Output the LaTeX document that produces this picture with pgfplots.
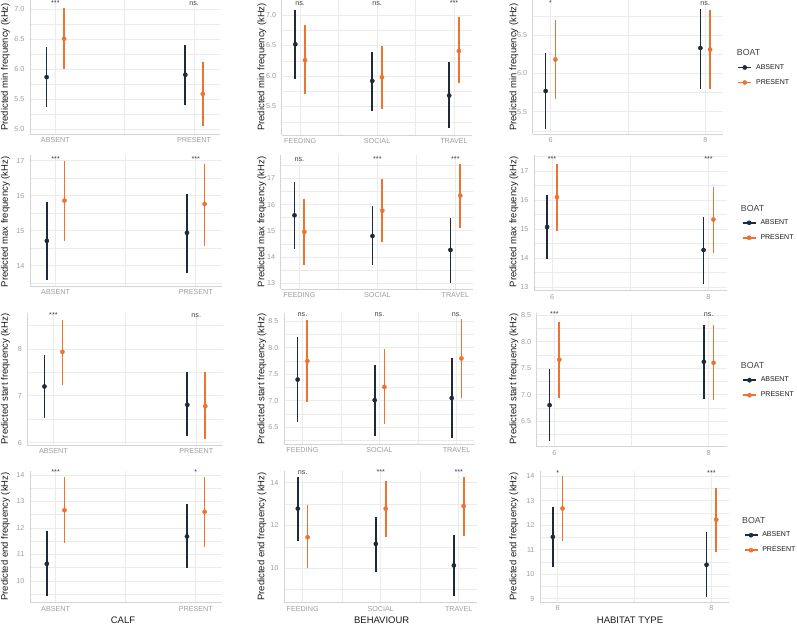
\documentclass[border=0pt]{standalone}
\usepackage{fontspec}
\setmainfont{Liberation Sans}
\usepackage{pgfplots}
\pgfplotsset{compat=1.18}

\definecolor{cdark}{HTML}{1C2A3A}
\definecolor{corange}{HTML}{EC7330}
\definecolor{gridc}{HTML}{EBEBEB}
\definecolor{axisc}{HTML}{D4D4D4}
\definecolor{tickc}{HTML}{9E9E9E}
\definecolor{annc}{HTML}{444444}
\definecolor{labc}{HTML}{1A1A1A}

\newcommand\tickfont{\fontsize{7.2}{8.6}\selectfont}
\newcommand\labfont{\fontsize{9.5}{11}\selectfont}
\newcommand\legfont{\fontsize{7}{8.4}\selectfont}
\newcommand\titfont{\fontsize{8.8}{10}\selectfont}

\tikzset{ann/.style={anchor=base, font=\tickfont, text=annc, inner sep=0pt}}

\pgfplotsset{
  panel/.style={
    scale only axis, anchor=south west, clip=false, enlargelimits=false,
    axis x line*=bottom, axis y line*=left,
    axis line style={draw=axisc, line width=0.7pt, -},
    major tick length=0pt, minor tick length=0pt,
    grid=both,
    major grid style={draw=gridc, line width=0.8pt},
    minor grid style={draw=gridc, line width=0.45pt},
    tick label style={font=\tickfont, text=tickc},
    yticklabel style={xshift=-2pt},
    /pgf/number format/assume math mode=true,
  },
  dec/.style={yticklabel style={/pgf/number format/.cd, fixed, fixed zerofill, precision=1}},
  calf/.style={xmin=0.817, xmax=2.187, xtick={1,2}, minor xtick={1.5}, xticklabels={ABSENT,PRESENT}},
  behav/.style={xmin=0.76, xmax=3.23, xtick={1,2,3}, minor xtick={1.5,2.5}, xticklabels={FEEDING,SOCIAL,TRAVEL}},
  habit/.style={xmin=5.77, xmax=8.233, xtick={6,8}, minor xtick={7}},
  sdark/.style={forget plot, only marks, mark=*, mark size=2.1pt, color=cdark,
    mark options={draw=cdark, fill=cdark},
    error bars/.cd, y dir=both, y explicit, error mark=none,
    error bar style={line width=1.7pt, color=cdark}},
  sorange/.style={forget plot, only marks, mark=*, mark size=2.1pt, color=corange,
    mark options={draw=corange, fill=corange},
    error bars/.cd, y dir=both, y explicit, error mark=none,
    error bar style={line width=1.7pt, color=corange}},
  /pgfplots/table/ci/.style={x=x, y=y,
    y error plus expr=\thisrow{hi}-\thisrow{y},
    y error minus expr=\thisrow{y}-\thisrow{lo}},
  keydark/.style={legend image code/.code={
    \draw[cdark, line width=1.6pt] (0pt,0pt) -- (13pt,0pt);
    \fill[cdark] (6.5pt,0pt) circle (2.1pt);}},
  keyorange/.style={legend image code/.code={
    \draw[corange, line width=1.6pt] (0pt,0pt) -- (13pt,0pt);
    \fill[corange] (6.5pt,0pt) circle (2.1pt);}},
  boatleg/.style={legend cell align=left,
    legend style={draw=none, fill=none, inner sep=0pt, font=\legfont,
      row sep=8.6pt, column sep=4pt, nodes={inner sep=0pt, text=labc}}},
}

\begin{document}
\begin{tikzpicture}
\useasboundingbox (0,0) rectangle (797pt,625pt);

% ---------------- row 1: minimum frequency ----------------
\begin{axis}[panel, calf, dec, at={(30pt,491pt)}, width=190pt, height=134pt,
  ymin=4.922, ymax=7.155, ytick={5,5.5,6,6.5,7}, minor ytick={5.25,5.75,6.25,6.75}]
\addplot[sdark] table[ci] {
x y lo hi
0.937 5.87 5.37 6.37
1.937 5.91 5.41 6.41
};
\addplot[sorange] table[ci] {
x y lo hi
1.063 6.51 6.00 7.02
2.063 5.59 5.06 6.13
};
\node[ann] at (axis cs:1,7.058) {***};
\node[ann] at (axis cs:2,7.058) {ns.};
\end{axis}

\begin{axis}[panel, behav, dec, at={(281.7pt,490pt)}, width=190pt, height=135pt,
  ymin=5.033, ymax=7.246, ytick={5.5,6,6.5,7}, minor ytick={5.25,5.75,6.25,6.75,7.25}]
\addplot[sdark] table[ci] {
x y lo hi
0.937 6.52 5.95 7.09
1.937 5.92 5.43 6.40
2.937 5.68 5.14 6.23
};
\addplot[sorange] table[ci] {
x y lo hi
1.063 6.26 5.70 6.83
2.063 5.98 5.46 6.49
3.063 6.41 5.88 6.96
};
\node[ann] at (axis cs:1,7.151) {ns.};
\node[ann] at (axis cs:2,7.151) {ns.};
\node[ann] at (axis cs:3,7.151) {***};
\end{axis}

\begin{axis}[panel, habit, dec, boatleg, at={(532.7pt,490.7pt)}, width=190.6pt, height=134.3pt,
  ymin=5.205, ymax=6.956, ytick={5.5,6,6.5}, minor ytick={5.25,5.75,6.25,6.75},
  legend style={at={(axis description cs:1.0734,0.4415)}, anchor=west}]
\addplot[sdark] table[ci] {
x y lo hi
5.937 5.77 5.28 6.26
7.937 6.33 5.80 6.84
};
\addplot[sorange] table[ci] {
x y lo hi
6.063 6.18 5.66 6.70
8.063 6.31 5.79 6.83
};
\addlegendimage{keydark}\addlegendentry{ABSENT}
\addlegendimage{keyorange}\addlegendentry{PRESENT}
\node[ann] at (axis cs:6,6.880) {*};
\node[ann] at (axis cs:8,6.880) {ns.};
\end{axis}

% ---------------- row 2: maximum frequency ----------------
\begin{axis}[panel, calf, at={(30pt,339pt)}, width=192pt, height=131pt,
  ymin=13.42, ymax=17.163, ytick={14,15,16,17}, minor ytick={13.5,14.5,15.5,16.5}]
\addplot[sdark] table[ci] {
x y lo hi
0.937 14.71 13.59 15.83
1.937 14.94 13.80 16.06
};
\addplot[sorange] table[ci] {
x y lo hi
1.063 15.86 14.71 17.00
2.063 15.76 14.56 16.92
};
\node[ann] at (axis cs:1,16.97) {***};
\node[ann] at (axis cs:2,16.97) {***};
\end{axis}

\begin{axis}[panel, behav, at={(280.7pt,335.7pt)}, width=192.6pt, height=134.3pt,
  ymin=12.77, ymax=17.888, ytick={13,14,15,16,17}, minor ytick={13.5,14.5,15.5,16.5,17.5}]
\addplot[sdark] table[ci] {
x y lo hi
0.937 15.59 14.30 16.87
1.937 14.80 13.69 15.94
2.937 14.27 13.02 15.48
};
\addplot[sorange] table[ci] {
x y lo hi
1.063 14.96 13.69 16.23
2.063 15.77 14.58 16.96
3.063 16.34 15.10 17.54
};
\node[ann] at (axis cs:1,17.64) {ns.};
\node[ann] at (axis cs:2,17.64) {***};
\node[ann] at (axis cs:3,17.64) {***};
\end{axis}

\begin{axis}[panel, habit, boatleg, at={(534pt,334.3pt)}, width=192.7pt, height=135.7pt,
  ymin=12.88, ymax=17.55, ytick={13,14,15,16,17}, minor ytick={13.5,14.5,15.5,16.5,17.5},
  legend style={at={(axis description cs:1.0778,0.445)}, anchor=west}]
\addplot[sdark] table[ci] {
x y lo hi
5.937 15.07 13.96 16.18
7.937 14.28 13.11 15.41
};
\addplot[sorange] table[ci] {
x y lo hi
6.063 16.10 14.95 17.24
8.063 15.33 14.17 16.46
};
\addlegendimage{keydark}\addlegendentry{ABSENT}
\addlegendimage{keyorange}\addlegendentry{PRESENT}
\node[ann] at (axis cs:6,17.33) {***};
\node[ann] at (axis cs:8,17.33) {***};
\end{axis}

% ---------------- row 3: start frequency ----------------
\begin{axis}[panel, calf, at={(27.3pt,180pt)}, width=195.7pt, height=132pt,
  ymin=5.95, ymax=8.77, ytick={6,7,8}, minor ytick={6.5,7.5,8.5}]
\addplot[sdark] table[ci] {
x y lo hi
0.937 7.20 6.52 7.88
1.937 6.81 6.14 7.50
};
\addplot[sorange] table[ci] {
x y lo hi
1.063 7.94 7.23 8.63
2.063 6.78 6.07 7.51
};
\node[ann] at (axis cs:1,8.68) {***};
\node[ann] at (axis cs:2,8.68) {ns.};
\end{axis}

\begin{axis}[panel, behav, dec, at={(284pt,181pt)}, width=190.3pt, height=131pt,
  ymin=6.18, ymax=8.66, ytick={6.5,7,7.5,8,8.5}, minor ytick={6.25,6.75,7.25,7.75,8.25}]
\addplot[sdark] table[ci] {
x y lo hi
0.937 7.40 6.59 8.20
1.937 7.01 6.33 7.67
2.937 7.05 6.29 7.81
};
\addplot[sorange] table[ci] {
x y lo hi
1.063 7.75 6.97 8.52
2.063 7.26 6.55 7.98
3.063 7.80 7.05 8.55
};
\node[ann] at (axis cs:1,8.594) {ns.};
\node[ann] at (axis cs:2,8.594) {ns.};
\node[ann] at (axis cs:3,8.594) {ns.};
\end{axis}

\begin{axis}[panel, habit, dec, boatleg, at={(536.7pt,178.3pt)}, width=190pt, height=133.7pt,
  ymin=6.015, ymax=8.54, ytick={6.5,7,7.5,8,8.5}, minor ytick={6.25,6.75,7.25,7.75,8.25},
  legend style={at={(axis description cs:1.0805,0.4413)}, anchor=west}]
\addplot[sdark] table[ci] {
x y lo hi
5.937 6.80 6.12 7.48
7.937 7.62 6.91 8.32
};
\addplot[sorange] table[ci] {
x y lo hi
6.063 7.66 6.94 8.37
8.063 7.60 6.90 8.31
};
\addlegendimage{keydark}\addlegendentry{ABSENT}
\addlegendimage{keyorange}\addlegendentry{PRESENT}
\node[ann] at (axis cs:6,8.474) {***};
\node[ann] at (axis cs:8,8.474) {ns.};
\end{axis}

% ---------------- row 4: end frequency ----------------
\begin{axis}[panel, calf, at={(30pt,22.3pt)}, width=192pt, height=132pt,
  ymin=9.18, ymax=14.16, ytick={10,11,12,13,14}, minor ytick={9.5,10.5,11.5,12.5,13.5}]
\addplot[sdark] table[ci] {
x y lo hi
0.937 10.65 9.43 11.87
1.937 11.68 10.49 12.91
};
\addplot[sorange] table[ci] {
x y lo hi
1.063 12.67 11.43 13.94
2.063 12.61 11.30 13.94
};
\node[ann] at (axis cs:1,14.0) {***};
\node[ann] at (axis cs:2,14.0) {*};
\end{axis}

\begin{axis}[panel, behav, at={(284pt,22.3pt)}, width=192.7pt, height=132pt,
  ymin=8.39, ymax=14.56, ytick={10,12,14}, minor ytick={9,11,13}]
\addplot[sdark] table[ci] {
x y lo hi
0.937 12.79 11.29 14.28
1.937 11.14 9.84 12.38
2.937 10.13 8.71 11.55
};
\addplot[sorange] table[ci] {
x y lo hi
1.063 11.45 10.00 12.96
2.063 12.79 11.45 14.09
3.063 12.91 11.51 14.28
};
\node[ann] at (axis cs:1,14.36) {ns.};
\node[ann] at (axis cs:2,14.36) {***};
\node[ann] at (axis cs:3,14.36) {***};
\end{axis}

\begin{axis}[panel, habit, boatleg, at={(540pt,22.7pt)}, width=189.3pt, height=131.6pt,
  ymin=8.85, ymax=14.22, ytick={9,10,11,12,13,14}, minor ytick={9.5,10.5,11.5,12.5,13.5},
  legend style={at={(axis description cs:1.075,0.453)}, anchor=west}]
\addplot[sdark] table[ci] {
x y lo hi
5.937 11.52 10.29 12.74
7.937 10.38 9.08 11.71
};
\addplot[sorange] table[ci] {
x y lo hi
6.063 12.68 11.35 14.00
8.063 12.22 10.91 13.53
};
\addlegendimage{keydark}\addlegendentry{ABSENT}
\addlegendimage{keyorange}\addlegendentry{PRESENT}
\node[ann] at (axis cs:6,14.04) {*};
\node[ann] at (axis cs:8,14.04) {***};
\end{axis}

% ---------------- axis titles ----------------
\begin{scope}[every node/.style={rotate=90, font=\labfont, text=labc, inner sep=0pt}]
\node at (5.5pt,558pt) {Predicted min frequency (kHz)};
\node at (262pt,558pt) {Predicted min frequency (kHz)};
\node at (514pt,558pt) {Predicted min frequency (kHz)};
\node at (5.5pt,403pt) {Predicted max frequency (kHz)};
\node at (262pt,403pt) {Predicted max frequency (kHz)};
\node at (514pt,403pt) {Predicted max frequency (kHz)};
\node at (5.5pt,246pt) {Predicted start frequency (kHz)};
\node at (262pt,246pt) {Predicted start frequency (kHz)};
\node at (514pt,246pt) {Predicted start frequency (kHz)};
\node at (5.5pt,88.5pt) {Predicted end frequency (kHz)};
\node at (262pt,88.5pt) {Predicted end frequency (kHz)};
\node at (514pt,88.5pt) {Predicted end frequency (kHz)};
\end{scope}

\begin{scope}[every node/.style={font=\labfont, text=labc, inner sep=0pt}]
\node at (123pt,4.3pt) {CALF};
\node at (381.7pt,4.3pt) {BEHAVIOUR};
\node at (630pt,4.3pt) {HABITAT TYPE};
\end{scope}

\begin{scope}[every node/.style={anchor=west, font=\titfont, text=annc, inner sep=0pt}]
\node at (736.7pt,572.3pt) {BOAT};
\node at (740.7pt,417pt) {BOAT};
\node at (740.7pt,260pt) {BOAT};
\node at (742pt,105pt) {BOAT};
\end{scope}
\end{tikzpicture}
\end{document}
